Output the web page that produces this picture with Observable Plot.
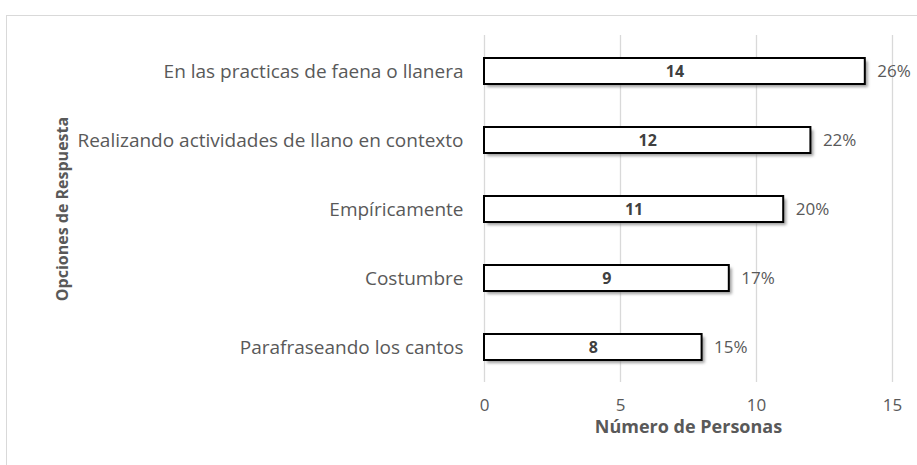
<!DOCTYPE html>
<html>
<head>
<meta charset="utf-8">
<script src="https://cdn.jsdelivr.net/npm/d3@7"></script>
<script src="https://cdn.jsdelivr.net/npm/@observablehq/plot@0.6"></script>
<style>
  html, body { margin: 0; padding: 0; background: #fff; width: 917px; height: 465px; overflow: hidden; }
  #frame { position: absolute; left: 6px; top: 15px; width: 1000px; height: 1000px; border: 1px solid #d9d9d9; box-sizing: border-box; }
  #chart { position: absolute; left: 0; top: 0; }
</style>
</head>
<body>
<div id="frame"></div>
<div id="chart"></div>
<script>
const categories = [
  "En las practicas de faena o llanera",
  "Realizando actividades de llano en contexto",
  "Empíricamente",
  "Costumbre",
  "Parafraseando los cantos"
];
const counts = [14, 12, 11, 9, 8];
const percents = ["26%", "22%", "20%", "17%", "15%"];
const xTicks = [0, 5, 10, 15];
const xTitle = "Número de Personas";
const yTitle = "Opciones de Respuesta";

const data = categories.map((c, i) => ({cat: c, n: counts[i], pct: percents[i]}));
const font = "Open Sans, sans-serif";

const chart = Plot.plot({
  width: 917,
  height: 465,
  marginLeft: 484,
  marginRight: 25,
  marginTop: 35,
  marginBottom: 83,
  style: {background: "transparent", color: "#595959"},
  x: {domain: [0, 15], ticks: xTicks, axis: null},
  y: {domain: categories, paddingInner: 0.63, paddingOuter: 0.315, axis: null},
  marks: [
    Plot.gridX(xTicks, {stroke: "#d9d9d9", strokeOpacity: 1, strokeWidth: 1.3}),
    Plot.barX(data, {x: "n", y: "cat", fill: "#7f7f7f", fillOpacity: 0.75, dx: 3, dy: 3}),
    Plot.barX(data, {x: "n", y: "cat", fill: "white", stroke: "black", strokeWidth: 2}),
    Plot.text(data, {x: d => d.n / 2, y: "cat", text: d => String(d.n), fill: "#404040", fontWeight: "bold", fontSize: 16, fontFamily: font}),
    Plot.text(data, {x: "n", y: "cat", text: "pct", textAnchor: "start", dx: 12, fill: "#595959", fontSize: 17, fontFamily: font}),
    Plot.axisX(xTicks, {tickSize: 0, tickPadding: 16, fontSize: 17, fontFamily: font, fill: "#595959", label: null}),
    Plot.axisY({tickSize: 0, tickPadding: 21, fontSize: 19, fill: "#595959", label: null, fontFamily: font}),
    Plot.text([xTitle], {frameAnchor: "bottom", dy: 50, text: d => d, fontWeight: "bold", fontSize: 18, fill: "#595959", fontFamily: font}),
    Plot.text([yTitle], {frameAnchor: "left", textAnchor: "middle", dx: -422, rotate: -90, text: d => d, fontWeight: "bold", fontSize: 16, fill: "#595959", fontFamily: font})
  ]
});
const bars = chart.querySelectorAll('g[aria-label="bar"]');
if (bars.length) bars[0].style.filter = "blur(1.5px)";
document.getElementById("chart").appendChild(chart);
</script>
</body>
</html>
